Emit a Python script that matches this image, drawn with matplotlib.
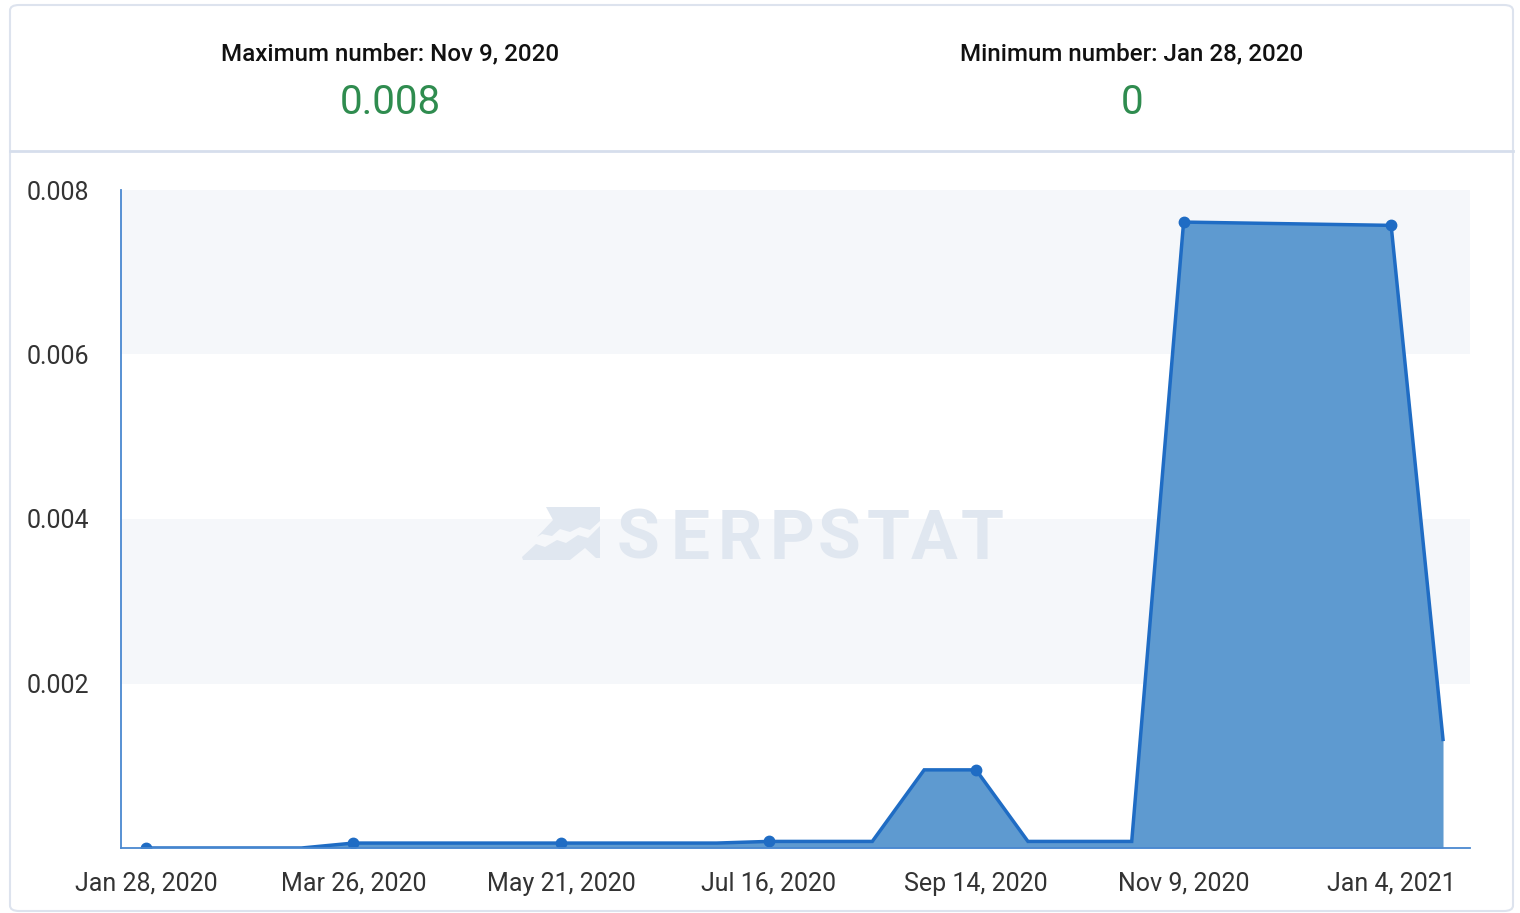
import matplotlib
matplotlib.use("Agg")
import matplotlib.pyplot as plt
from matplotlib.patches import FancyBboxPatch, Polygon
from matplotlib.lines import Line2D
import numpy as np

plt.rcParams['font.family'] = ['Roboto', 'DejaVu Sans']

# ---- data ----
values = [0.0, 0.0, 0.0, 0.0,
          0.00006, 0.00006, 0.00006, 0.00006,
          0.00006, 0.00006, 0.00006, 0.00006,
          0.00008, 0.00008, 0.00008, 0.00095,
          0.00095, 0.00008, 0.00008, 0.00008,
          0.00761, 0.0076, 0.00759, 0.00758,
          0.00757, 0.00132]
tick_labels = ["Jan 28, 2020", "Mar 26, 2020", "May 21, 2020", "Jul 16, 2020",
               "Sep 14, 2020", "Nov 9, 2020", "Jan 4, 2021"]
tick_every = 4
y_ticks = [0.002, 0.004, 0.006, 0.008]
y_tick_labels = ["0.002", "0.004", "0.006", "0.008"]
max_label = "Maximum number: Nov 9, 2020"
max_value = "0.008"
min_label = "Minimum number: Jan 28, 2020"
min_value = "0"
watermark = "SERPSTAT"

W, H = 1520, 913
fig = plt.figure(figsize=(W / 100, H / 100), dpi=100)
fig.patch.set_facecolor("white")

def fx(px):
    return px / W

def fy(py):
    return 1 - py / H

# outer card
card = FancyBboxPatch((fx(10), fy(911)), fx(1513) - fx(10), fy(5) - fy(911),
                      boxstyle="round,pad=0,rounding_size=0.006",
                      transform=fig.transFigure, facecolor="white",
                      edgecolor="#dde3ee", linewidth=1.5, zorder=-10)
fig.patches.append(card)
fig.lines.append(Line2D([fx(10), fx(1513)], [fy(151), fy(151)],
                        transform=fig.transFigure, color="#d6deec", linewidth=2.0,
                        zorder=-5))

# header
green = "#2f8c4f"
fig.text(fx(390), fy(54), max_label, ha="center", va="center", fontsize=17.4,
         fontweight="medium", color="#111111")
fig.text(fx(390), fy(102), max_value, ha="center", va="center", fontsize=29,
         color=green)
fig.text(fx(1132), fy(54), min_label, ha="center", va="center", fontsize=17.4,
         fontweight="medium", color="#111111")
fig.text(fx(1132), fy(102), min_value, ha="center", va="center", fontsize=29,
         color=green)

# axes
left, right, top, bottom = 121, 1470, 190, 848
ax = fig.add_axes([fx(left), fy(bottom), fx(right) - fx(left), fy(top) - fy(bottom)])
ax.set_facecolor("none")
ax.set_zorder(1)

x = np.arange(len(values))
ax.set_xlim(-0.48, len(values) - 1 + 0.52)
ax.set_ylim(0, 0.008)

for lo, hi in [(0.002, 0.004), (0.006, 0.008)]:
    ax.axhspan(lo, hi, color="#f5f7fa", zorder=0, linewidth=0)

# watermark (letter by letter, spaced)
wm = "#e0e7f0"
letter_centers = [638, 690, 740, 792, 839, 888, 934, 982]
for ch, cx in zip(watermark, letter_centers):
    ax.text(fx(cx), fy(533), ch, transform=fig.transFigure, ha="center",
            va="center_baseline", fontsize=50, fontweight="bold", color=wm, zorder=1)
logo_top = Polygon([[fx(546), fy(507)], [fx(600), fy(507)], [fx(600), fy(521)],
                    [fx(590), fy(530)], [fx(580), fy(527)], [fx(570), fy(532)],
                    [fx(560), fy(529)], [fx(552), fy(536)], [fx(542), fy(534)],
                    [fx(537), fy(537)], [fx(553), fy(520)]],
                   closed=True, transform=fig.transFigure, facecolor=wm,
                   edgecolor="none", zorder=1)
logo_bot = Polygon([[fx(600), fy(526)], [fx(600), fy(558)], [fx(596), fy(558)],
                    [fx(585), fy(548)], [fx(570), fy(560)], [fx(523), fy(560)],
                    [fx(522), fy(557)], [fx(536), fy(544)], [fx(545), fy(547)],
                    [fx(557), fy(540)], [fx(566), fy(543)], [fx(578), fy(535)],
                    [fx(588), fy(538)]],
                   closed=True, transform=fig.transFigure, facecolor=wm,
                   edgecolor="none", zorder=1)
ax.add_patch(logo_top)
ax.add_patch(logo_bot)

line_color = "#1f6cc4"
fill_color = "#5e9ad0"
ax.fill_between(x, 0, values, color=fill_color, linewidth=0, zorder=2)
ax.plot(x, values, color=line_color, linewidth=2.5, zorder=3,
        solid_joinstyle="miter")
mk = x[::tick_every]
ax.plot(mk, np.array(values)[::tick_every], linestyle="none", marker="o",
        markersize=7.5, color=line_color, zorder=4)

ax.set_xticks(x[::tick_every])
ax.set_xticklabels(tick_labels)
ax.set_yticks(y_ticks)
ax.set_yticklabels(y_tick_labels)
ax.tick_params(axis="both", length=0, labelsize=18, labelcolor="#333333")
ax.tick_params(axis="x", pad=17)
ax.tick_params(axis="y", pad=23)

for s in ["top", "right"]:
    ax.spines[s].set_visible(False)
for s in ["left", "bottom"]:
    ax.spines[s].set_color("#4a88d0")
    ax.spines[s].set_linewidth(1.3)
    ax.spines[s].set_zorder(5)

fig.savefig("out.png", dpi=100, facecolor="white")
